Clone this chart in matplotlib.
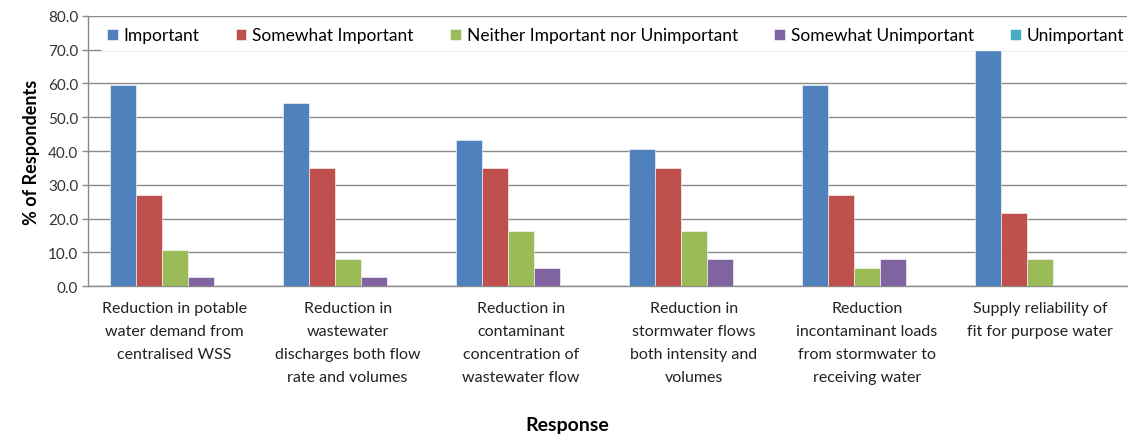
import matplotlib
matplotlib.use("Agg")
import matplotlib.pyplot as plt
import numpy as np

plt.rcParams['font.family'] = ['Lato', 'DejaVu Sans']

categories = [
    "Reduction in potable\nwater demand from\ncentralised WSS",
    "Reduction in\nwastewater\ndischarges both flow\nrate and volumes",
    "Reduction in\ncontaminant\nconcentration of\nwastewater flow",
    "Reduction in\nstormwater flows\nboth intensity and\nvolumes",
    "Reduction\nincontaminant loads\nfrom stormwater to\nreceiving water",
    "Supply reliability of\nfit for purpose water",
]
series_names = ["Important", "Somewhat Important", "Neither Important nor Unimportant",
                "Somewhat Unimportant", "Unimportant"]
important = [59.5, 54.1, 43.2, 40.5, 59.5, 70.3]
somewhat_important = [27.0, 35.1, 35.1, 35.1, 27.0, 21.6]
neither = [10.8, 8.1, 16.2, 16.2, 5.4, 8.1]
somewhat_unimportant = [2.7, 2.7, 5.4, 8.1, 8.1, 0.0]
unimportant = [0.0, 0.0, 0.0, 0.0, 0.0, 0.0]
y_ticks = [0, 10, 20, 30, 40, 50, 60, 70, 80]

colors = ["#4F81BD", "#C0504D", "#9BBB59", "#8064A2", "#4BACC6"]
all_series = [important, somewhat_important, neither, somewhat_unimportant, unimportant]

fig = plt.figure(figsize=(11.34, 4.35), dpi=100)
ax = fig.add_axes([0.0776, 0.340, 0.916, 0.621])

x = np.arange(len(categories))
w = 0.15
for i, (vals, name, c) in enumerate(zip(all_series, series_names, colors)):
    ax.bar(x + (i - 2) * w, vals, width=w, color=c, label=name,
           edgecolor="white", linewidth=0.4, zorder=3)

ax.set_xlim(-0.5, len(categories) - 0.5)
ax.set_ylim(0, 80)
ax.set_yticks(y_ticks)
ax.set_yticklabels([f"{v:.1f}" for v in y_ticks], fontsize=11, color="#333333")
ax.set_xticks(x)
ax.set_xticklabels(categories, fontsize=11.5, color="#222222", linespacing=1.8,
                   va="top")
ax.tick_params(axis="x", length=0, pad=11)
ax.tick_params(axis="y", length=4, color="#8a8a8a", width=1, pad=3)

ax.grid(axis="y", color="#8a8a8a", linewidth=1, zorder=0)
for s in ["top", "right"]:
    ax.spines[s].set_visible(False)
ax.spines["left"].set_color("#8a8a8a")
ax.spines["bottom"].set_color("#8a8a8a")
ax.spines["left"].set_linewidth(1)
ax.spines["bottom"].set_linewidth(1)

ax.set_ylabel("% of Respondents", fontsize=13, fontweight="bold", labelpad=6)
fig.text(0.5, 0.003, "Response", ha="center", va="bottom", fontsize=14,
         fontweight="bold")

leg = ax.legend(loc="upper center", bbox_to_anchor=(0.508, 1.0), ncol=5,
                frameon=True, fontsize=12.5, handlelength=0.6, handleheight=0.6,
                handletextpad=0.35, columnspacing=2.1, borderaxespad=0.25)
leg.get_frame().set_facecolor("white")
leg.get_frame().set_edgecolor("white")
leg.get_frame().set_alpha(1)
leg.set_zorder(5)

fig.savefig("out.png", dpi=100)
